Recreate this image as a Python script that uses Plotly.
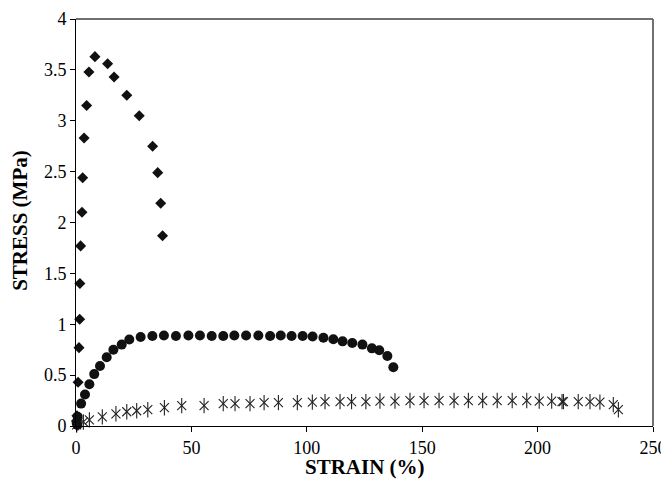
import plotly.graph_objects as go

# Diamond series (stress-strain)
dia_x = [0.2, 0.4, 0.9, 1.3, 1.6, 1.7, 2.0, 2.6, 2.9, 3.5, 4.6, 5.6, 8.2, 13.7, 16.5, 22.0, 27.4, 33.2, 35.4, 36.7, 37.5]
dia_y = [0.05, 0.10, 0.43, 0.77, 1.05, 1.40, 1.77, 2.10, 2.44, 2.83, 3.15, 3.48, 3.63, 3.56, 3.43, 3.25, 3.05, 2.75, 2.49, 2.19, 1.87]

# Circle series
cir_x = [0.3, 0.6, 0.7, 2.2, 3.9, 5.8, 7.9, 10.4, 13.3, 16.2, 19.8, 23.1, 28.0, 33.1, 38.1, 43.3, 48.7, 53.7,
         58.8, 63.8, 68.6, 73.7, 79.0, 84.1, 88.7, 93.4, 98.2, 102.5, 107.2, 111.5, 115.5, 119.7, 124.1,
         128.2, 131.4, 134.9, 137.5]
cir_y = [0.03, 0.01, 0.09, 0.22, 0.31, 0.41, 0.51, 0.59, 0.675, 0.75, 0.80, 0.85, 0.875, 0.885, 0.89, 0.885,
         0.89, 0.89, 0.885, 0.885, 0.89, 0.89, 0.89, 0.885, 0.89, 0.885, 0.885, 0.88, 0.868, 0.852, 0.832,
         0.816, 0.80, 0.763, 0.744, 0.688, 0.577]

# Asterisk series
ast_x = [0.3, 0.8, 3.2, 5.8, 11.4, 17.3, 22.0, 26.3, 31.1, 38.3, 45.8, 55.5, 63.8, 68.9, 75.4, 81.5, 87.7,
         95.9, 102.4, 107.9, 114.4, 119.4, 125.6, 131.7, 138.2, 144.7, 150.8, 157.3, 163.8, 170.0, 176.2,
         182.5, 189.0, 195.3, 200.7, 206.1, 210.6, 211.2, 217.6, 222.7, 227.0, 232.8, 235.0]
ast_y = [0.01, 0.03, 0.04, 0.06, 0.09, 0.12, 0.14, 0.15, 0.16, 0.18, 0.20, 0.20, 0.22, 0.22, 0.22, 0.23, 0.23,
         0.23, 0.235, 0.24, 0.24, 0.24, 0.24, 0.245, 0.245, 0.25, 0.25, 0.25, 0.25, 0.25, 0.25,
         0.25, 0.25, 0.25, 0.245, 0.245, 0.24, 0.24, 0.24, 0.24, 0.235, 0.21, 0.16]

x_ticks = [0, 50, 100, 150, 200, 250]
y_ticks = [0, 0.5, 1, 1.5, 2, 2.5, 3, 3.5, 4]
y_tick_text = ["0", "0.5", "1", "1.5", "2", "2.5", "3", "3.5", "4"]
x_title = "<b>STRAIN (%)</b>"
y_title = "<b>STRESS (MPa)</b>"

fig = go.Figure()
fig.add_trace(go.Scatter(x=ast_x, y=ast_y, mode="markers", cliponaxis=False,
                         marker=dict(symbol="x-thin-open", size=9, color="#222", line=dict(width=1.1, color="#222"))))
fig.add_trace(go.Scatter(x=ast_x, y=ast_y, mode="markers", cliponaxis=False,
                         marker=dict(symbol="line-ns-open", size=11, color="#222", line=dict(width=1.1, color="#222"))))
fig.add_trace(go.Scatter(x=cir_x, y=cir_y, mode="markers", cliponaxis=False,
                         marker=dict(symbol="circle", size=10, color="#111")))
fig.add_trace(go.Scatter(x=dia_x, y=dia_y, mode="markers", cliponaxis=False,
                         marker=dict(symbol="diamond", size=8.5, color="#111")))

font_family = "Liberation Serif, Times New Roman, serif"
fig.update_layout(
    width=661, height=476,
    margin=dict(l=68, r=16, t=11, b=58, autoexpand=False),
    paper_bgcolor="white", plot_bgcolor="white",
    showlegend=False,
    font=dict(family=font_family, size=18, color="black"),
    shapes=[
        dict(type="line", xref="paper", yref="paper", x0=0, x1=1, y0=1, y1=1,
             line=dict(color="#707070", width=2)),
        dict(type="line", xref="paper", yref="paper", x0=1, x1=1, y0=0, y1=1,
             line=dict(color="#707070", width=2)),
    ],
    annotations=[
        dict(text=x_title, xref="paper", yref="paper", x=0.5, y=0, xanchor="center", yanchor="middle",
             yshift=-41, showarrow=False, font=dict(size=21)),
        dict(text=y_title, xref="paper", yref="paper", x=0, y=0.504, xanchor="center", yanchor="middle",
             xshift=-56, textangle=-90, showarrow=False, font=dict(size=21)),
    ],
)
fig.update_xaxes(range=[0, 250], tickvals=x_ticks, ticks="outside", ticklen=5, tickcolor="black",
                 showline=True, linecolor="black", linewidth=1, showgrid=False, zeroline=False,
                 automargin=False, tickfont=dict(size=18))
fig.update_yaxes(range=[0, 4], tickvals=y_ticks, ticktext=y_tick_text, ticks="outside", ticklen=5,
                 tickcolor="black", showline=True, linecolor="black", linewidth=1, showgrid=False,
                 zeroline=False, automargin=False, tickfont=dict(size=18))

fig.write_html("out.html")
